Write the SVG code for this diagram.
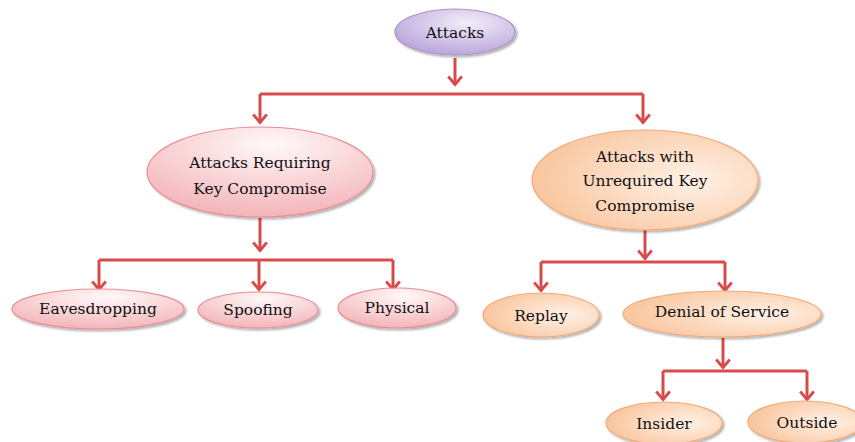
<svg xmlns="http://www.w3.org/2000/svg" width="855" height="442" viewBox="0 0 855 442">
<defs>
<style>
.t{font-family:"DejaVu Serif","Liberation Serif",serif;font-size:15.5px;fill:#111;text-anchor:middle}
.ln{fill:none;stroke:#d94b4b;stroke-width:3;stroke-linejoin:miter}
.ar{fill:none;stroke:#d94b4b;stroke-width:3;marker-end:url(#ah)}
.pu{fill:url(#gPu);stroke:#a995c4;stroke-width:1.2;filter:url(#sh)}
.pk{fill:url(#gPk);stroke:#e98d91;stroke-width:1.2;filter:url(#sh)}
.or{fill:url(#gOr);stroke:#f1ab78;stroke-width:1.2;filter:url(#sh)}
</style>
<marker id="ah" viewBox="0 0 12 16" refX="10.5" refY="8" markerWidth="12" markerHeight="16" markerUnits="userSpaceOnUse" orient="auto">
<path d="M2,1.2 L10,8 L2,14.8" fill="none" stroke="#d94b4b" stroke-width="2.8"/>
</marker>
<radialGradient id="gPu" cx="0.6" cy="0.3" r="0.8">
<stop offset="0" stop-color="#f3edfa"/><stop offset="1" stop-color="#b39dd6"/>
</radialGradient>
<radialGradient id="gPk" cx="0.55" cy="0.2" r="0.85">
<stop offset="0" stop-color="#fff8f8"/><stop offset="1" stop-color="#f2b0b5"/>
</radialGradient>
<radialGradient id="gOr" cx="0.7" cy="0.5" r="0.8">
<stop offset="0" stop-color="#fff1e6"/><stop offset="1" stop-color="#f8bf93"/>
</radialGradient>
<filter id="sh" x="-10%" y="-20%" width="125%" height="150%">
<feDropShadow dx="2" dy="2" stdDeviation="1.2" flood-color="#000" flood-opacity="0.3"/>
</filter>
</defs>

<g id="connectors">
<path class="ar" d="M455,58 V85"/>
<path class="ln" d="M260,94 H643"/>
<path class="ar" d="M260,94 V123"/>
<path class="ar" d="M643,94 V123"/>
<path class="ar" d="M260,218 V251"/>
<path class="ln" d="M99,260 H393"/>
<path class="ar" d="M99,260 V290"/>
<path class="ar" d="M259,260 V290"/>
<path class="ar" d="M393,260 V290"/>
<path class="ar" d="M645,230 V259"/>
<path class="ln" d="M541,262 H725"/>
<path class="ar" d="M541,262 V291"/>
<path class="ar" d="M725,262 V291"/>
<path class="ar" d="M723,338 V368"/>
<path class="ln" d="M663,371 H807"/>
<path class="ar" d="M663,371 V400"/>
<path class="ar" d="M807,371 V400"/>
</g>

<g id="attacks"><ellipse class="pu" cx="455" cy="32" rx="60" ry="23"/><text class="t" x="455" y="38">Attacks</text></g>
<g id="requiring"><ellipse class="pk" cx="260" cy="172" rx="113" ry="45"/><text class="t" x="260" y="168">Attacks Requiring</text><text class="t" x="260" y="194">Key Compromise</text></g>
<g id="unrequired"><ellipse class="or" cx="645" cy="180" rx="113" ry="50"/><text class="t" x="645" y="162">Attacks with</text><text class="t" x="645" y="186">Unrequired Key</text><text class="t" x="645" y="211">Compromise</text></g>
<g id="eavesdropping"><ellipse class="pk" cx="98" cy="309" rx="86" ry="20"/><text class="t" x="98" y="314">Eavesdropping</text></g>
<g id="spoofing"><ellipse class="pk" cx="258" cy="310" rx="60" ry="18"/><text class="t" x="258" y="315">Spoofing</text></g>
<g id="physical"><ellipse class="pk" cx="397" cy="308" rx="59" ry="20"/><text class="t" x="397" y="313">Physical</text></g>
<g id="replay"><ellipse class="or" cx="541" cy="315" rx="58" ry="22"/><text class="t" x="541" y="321">Replay</text></g>
<g id="dos"><ellipse class="or" cx="722" cy="314" rx="99" ry="23"/><text class="t" x="722" y="317">Denial of Service</text></g>
<g id="insider"><ellipse class="or" cx="664" cy="423" rx="58" ry="21"/><text class="t" x="664" y="429">Insider</text></g>
<g id="outside"><ellipse class="or" cx="805" cy="422" rx="57" ry="21"/><text class="t" x="807" y="428">Outside</text></g>
</svg>
